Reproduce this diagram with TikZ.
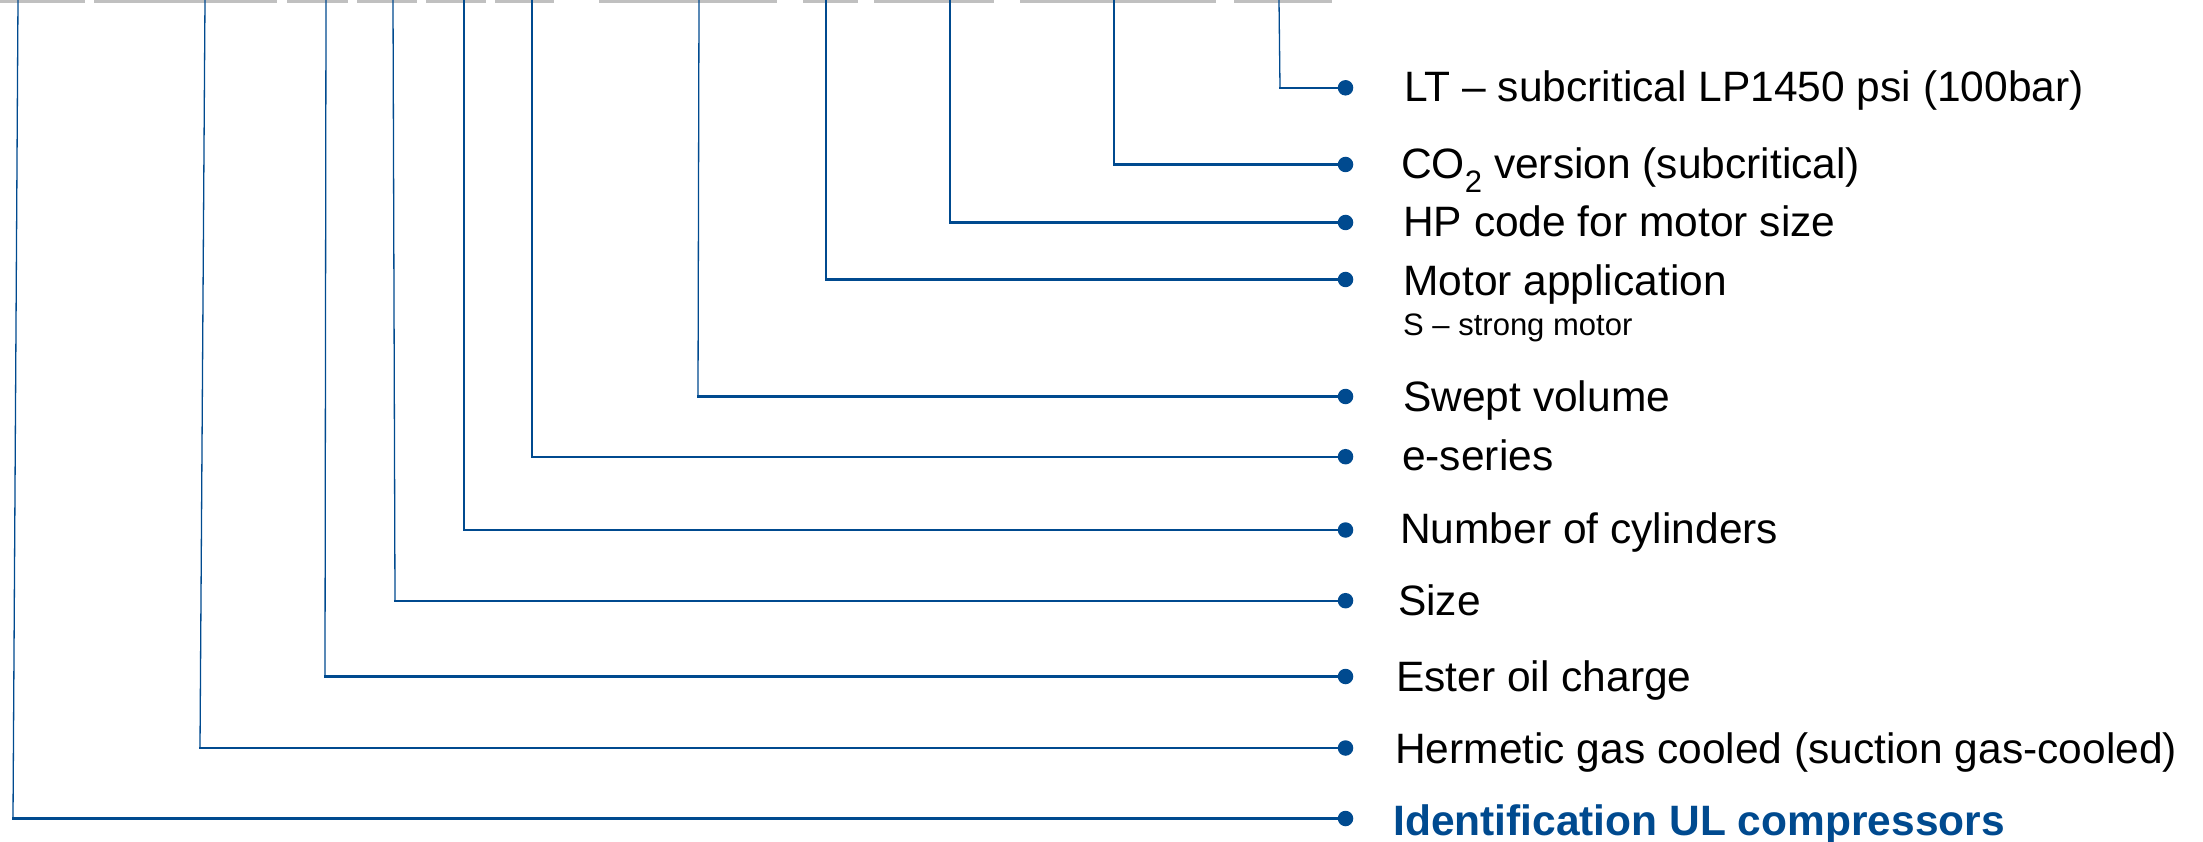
\documentclass[tikz,border=0pt]{standalone}
\usepackage{fontspec}
\setmainfont{Liberation Sans}
\definecolor{dblue}{HTML}{004A8F}
\definecolor{bargray}{HTML}{C0C0C0}
\newcommand{\mysubtwo}{\raisebox{-14pt}{\fontsize{31}{31}\selectfont 2}}
\begin{document}
\begin{tikzpicture}[x=1pt,y=-1pt,
  vline/.style={draw=dblue,line width=1.3pt},
  hline/.style={draw=dblue,line width=2.2pt,line cap=rect},
  topbar/.style={draw=bargray,line width=3pt},
  dot/.style={circle,fill=dblue,inner sep=0pt,minimum size=15.5pt},
  lbl/.style={anchor=base west,inner sep=0pt,font=\fontsize{42.5}{50}\selectfont},
  sublbl/.style={anchor=base west,inner sep=0pt,font=\fontsize{31}{36}\selectfont},
  titlelbl/.style={anchor=base west,inner sep=0pt,text=dblue,font=\fontsize{42.5}{50}\selectfont\bfseries}]
\useasboundingbox (0,0) rectangle (2203,842);
% top bars
\foreach \a/\b in {0/85,94/277,287/348,357/417,426/486,495/554,599/777,803/858,874/994,1020/1216,1234/1332}
  \draw[topbar] (\a,1.5) -- (\b,1.5);
% connectors and labels
\foreach \n/\tx/\bx/\yy/\lx/\ly/\t in {
  LT/1279/1280/87.8/1404/101.7/{LT – subcritical LP1450 psi (100bar)},
  CO/1114/1114/164.5/1401/178.3/{CO\mysubtwo\ version (subcritical)},
  HP/950/950/222.5/1403/237/{HP code for motor size},
  MO/826/826/279.5/1403/295/{Motor application},
  SW/699/698/396.5/1403/411.5/{Swept volume},
  ES/532/532/456.7/1402/470/{e-series},
  NC/464/464/530/1400/543/{Number of cylinders},
  SZ/393/395/600.7/1398/615/{Size},
  EO/326/325/676.5/1396/691.5/{Ester oil charge},
  HG/205/200/748/1395/763.3/{Hermetic gas cooled (suction gas-cooled)}}
{
  \coordinate (t\n) at (\tx,0);
  \coordinate (c\n) at (\bx,\yy);
  \node[dot] (d\n) at (1345.5,\yy) {};
  \node[lbl] (l\n) at (\lx,\ly) {\t};
  \draw[vline] (t\n) -- (c\n);
  \draw[hline] (c\n) -- (d\n);
}
\node[sublbl] (lMOsub) at (1403,335) {S – strong motor};
% title line
\coordinate (tID) at (18,0);
\coordinate (cID) at (13,818.5);
\node[dot] (dID) at (1345.5,818.5) {};
\node[titlelbl] (lID) at (1393,835) {Identification UL compressors};
\draw[vline] (tID) -- (cID);
\draw[hline] (cID) -- (dID);
\end{tikzpicture}
\end{document}
